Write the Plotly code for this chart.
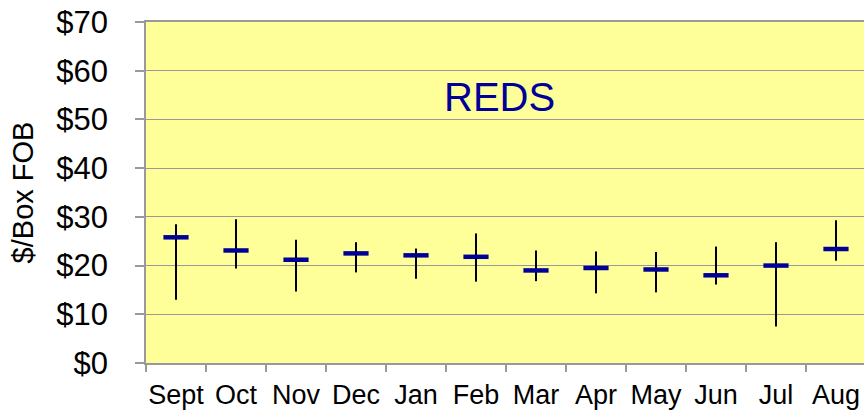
import plotly.graph_objects as go

months = ["Sept", "Oct", "Nov", "Dec", "Jan", "Feb", "Mar", "Apr", "May", "Jun", "Jul", "Aug"]
avg_price = [25.8, 23.1, 21.2, 22.5, 22.1, 21.8, 19.0, 19.5, 19.2, 18.0, 20.0, 23.4]
high_price = [28.5, 29.5, 25.3, 24.8, 23.5, 26.6, 23.1, 22.9, 22.8, 23.9, 24.8, 29.3]
low_price = [13.0, 19.4, 14.7, 18.6, 17.3, 16.7, 16.8, 14.3, 14.5, 16.1, 7.5, 21.0]
y_ticks = [0, 10, 20, 30, 40, 50, 60, 70]
y_labels = ["$" + str(v) for v in y_ticks]

FONT = "Liberation Sans, Arial, sans-serif"
GRAY = "#999999"

fig = go.Figure()
# high-low range lines
fig.add_trace(go.Scatter(
    x=months, y=avg_price, mode="markers",
    marker=dict(size=1, opacity=0),
    error_y=dict(type="data", symmetric=False,
                 array=[h - a for h, a in zip(high_price, avg_price)],
                 arrayminus=[a - l for a, l in zip(avg_price, low_price)],
                 width=0, thickness=2, color="black"),
    showlegend=False, hoverinfo="skip",
))
# average dashes
fig.add_trace(go.Scatter(
    x=months, y=avg_price, mode="markers",
    marker=dict(symbol="line-ew", size=18, color="#000099",
                line=dict(width=4.5, color="#000099")),
    showlegend=False,
))

fig.add_annotation(text="REDS", x=0.493, y=0.85, xref="paper", yref="paper",
                   showarrow=False, font=dict(family=FONT, size=40, color="#000099"))

fig.update_layout(
    width=864, height=412,
    margin=dict(l=146, r=0, t=22, b=49, autoexpand=False),
    paper_bgcolor="white", plot_bgcolor="#FFFF99",
    font=dict(family=FONT, color="black"),
    xaxis=dict(type="category", range=[-0.5, 11.467], showgrid=False, automargin=False,
               tickson="boundaries", ticks="outside", ticklen=7, tickcolor=GRAY, tickwidth=1.5,
               showline=True, linecolor=GRAY, linewidth=1.5, mirror=True, tickangle=0,
               tickfont=dict(size=27), ticklabelstandoff=7),
    yaxis=dict(range=[0, 70], tickvals=y_ticks, ticktext=y_labels, automargin=False,
               showgrid=True, gridcolor=GRAY, gridwidth=1,
               ticks="outside", ticklen=9, tickcolor=GRAY, tickwidth=1.5,
               showline=True, linecolor=GRAY, linewidth=1.5,
               tickfont=dict(size=31), ticklabelstandoff=21, ticklabeloverflow="allow",
               zeroline=False,
               title=dict(text="$/Box FOB", font=dict(size=29), standoff=14)),
)

fig.write_html("out.html", config={"displayModeBar": False},
               post_script="document.body.style.margin='0px';")
